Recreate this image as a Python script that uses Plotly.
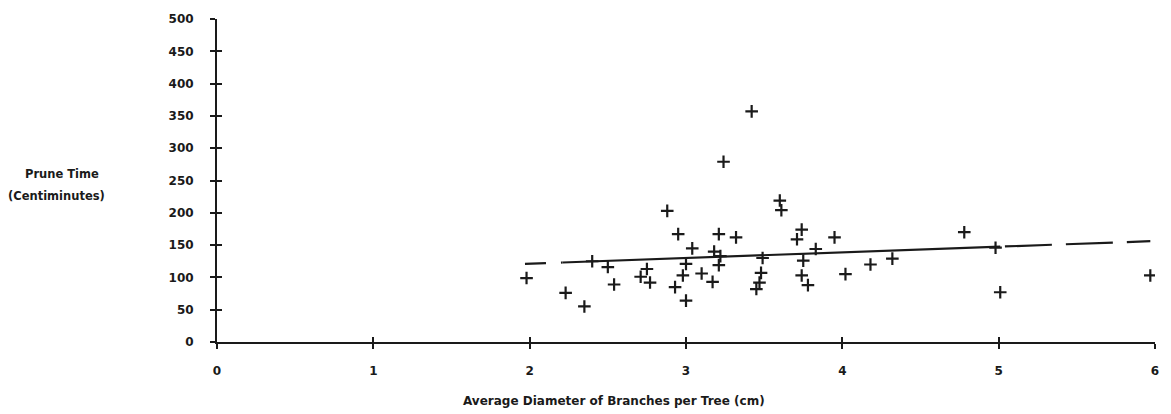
import plotly.graph_objects as go

# Observations: average branch diameter (cm) vs prune time (centiminutes)
diameter = [1.98, 2.23, 2.35, 2.40, 2.50, 2.54, 2.71, 2.75, 2.77, 2.88,
            2.93, 2.95, 2.98, 3.00, 3.00, 3.04, 3.10, 3.17, 3.18, 3.21,
            3.21, 3.22, 3.24, 3.32, 3.42, 3.45, 3.47, 3.48, 3.49, 3.60,
            3.61, 3.71, 3.74, 3.74, 3.75, 3.78, 3.83, 3.95, 4.02, 4.18,
            4.32, 4.78, 4.98, 5.01, 5.97]
prune_time = [99, 76, 55, 125, 116, 89, 101, 113, 92, 203,
              85, 167, 103, 121, 64, 145, 106, 93, 140, 119,
              167, 133, 279, 162, 357, 82, 92, 107, 130, 219,
              204, 159, 103, 174, 126, 88, 144, 162, 105, 120,
              129, 170, 146, 77, 103]

# Fitted regression line, drawn in three pieces (dashed / solid / dashed)
fit_left_x = [1.97, 2.21]
fit_left_y = [121.0, 123.1]
fit_mid_x = [2.21, 5.01]
fit_mid_y = [123.1, 147.6]
fit_right_x = [5.04, 5.97]
fit_right_y = [147.9, 156.0]

x_ticks = [0, 1, 2, 3, 4, 5, 6]
y_ticks = [0, 50, 100, 150, 200, 250, 300, 350, 400, 450, 500]

FONT = "DejaVu Sans"
INK = "#1a1a1a"

fig = go.Figure()

fig.add_trace(go.Scatter(x=fit_left_x, y=fit_left_y, mode="lines",
                         line=dict(color=INK, width=2.2, dash="21px,15px"),
                         showlegend=False, hoverinfo="skip"))
fig.add_trace(go.Scatter(x=fit_mid_x, y=fit_mid_y, mode="lines",
                         line=dict(color=INK, width=2.2),
                         showlegend=False, hoverinfo="skip"))
fig.add_trace(go.Scatter(x=fit_right_x, y=fit_right_y, mode="lines",
                         line=dict(color=INK, width=2.2, dash="47px,14px"),
                         showlegend=False, hoverinfo="skip"))

fig.add_trace(go.Scatter(x=diameter, y=prune_time, mode="markers",
                         marker=dict(symbol="cross-thin", size=9,
                                     line=dict(color=INK, width=2.2)),
                         showlegend=False))

# empty trace to host the overlay axes (inner half of the crossing ticks)
fig.add_trace(go.Scatter(x=[], y=[], xaxis="x2", yaxis="y2", showlegend=False))

tickfont = dict(family=FONT, size=12, color=INK, weight="bold")

common_x = dict(range=[0, 6], tickvals=x_ticks, showgrid=False, zeroline=False)
common_y = dict(range=[0, 500], tickvals=y_ticks, showgrid=False, zeroline=False)

title_font = dict(family=FONT, size=11.5, color=INK, weight="bold")

fig.update_layout(
    width=1171, height=414,
    margin=dict(l=217, r=12, t=12, b=72),
    paper_bgcolor="white", plot_bgcolor="white",
    xaxis=dict(**common_x, showline=True, linecolor=INK, linewidth=2,
               ticks="outside", ticklen=5, tickwidth=1.5, tickcolor=INK,
               tickfont=tickfont, ticklabelstandoff=12),
    yaxis=dict(**common_y, showline=True, linecolor=INK, linewidth=2,
               ticks="outside", ticklen=5, tickwidth=1.5, tickcolor=INK,
               tickfont=tickfont, ticklabelstandoff=14),
    xaxis2=dict(**common_x, overlaying="x", anchor="y2", side="bottom",
                showline=False, ticks="inside", ticklen=5, tickwidth=1.5,
                tickcolor=INK, showticklabels=False),
    yaxis2=dict(**common_y, overlaying="y", anchor="x2", side="left",
                showline=False, ticks="inside", ticklen=5, tickwidth=1.5,
                tickcolor=INK, showticklabels=False),
    annotations=[
        dict(text="Average Diameter of Branches per Tree (cm)",
             xref="paper", yref="paper", x=(616 - 217) / (1159 - 217),
             y=-(402 - 342) / 330, xanchor="center", yanchor="middle",
             showarrow=False,
             font=dict(family=FONT, size=12, color=INK, weight="bold")),
        dict(text="Prune Time",
             xref="paper", yref="paper", x=-(217 - 61) / (1159 - 217),
             y=(342 - 170) / 330, xanchor="center", yanchor="middle",
             showarrow=False, font=title_font),
        dict(text="(Centiminutes)",
             xref="paper", yref="paper", x=-(217 - 56) / (1159 - 217),
             y=(342 - 193) / 330, xanchor="center", yanchor="middle",
             showarrow=False, font=title_font),
    ],
)

fig.write_html("out.html",
               config={"displayModeBar": False},
               post_script="document.body.style.margin='0';"
                           "document.body.style.overflow='hidden';")
